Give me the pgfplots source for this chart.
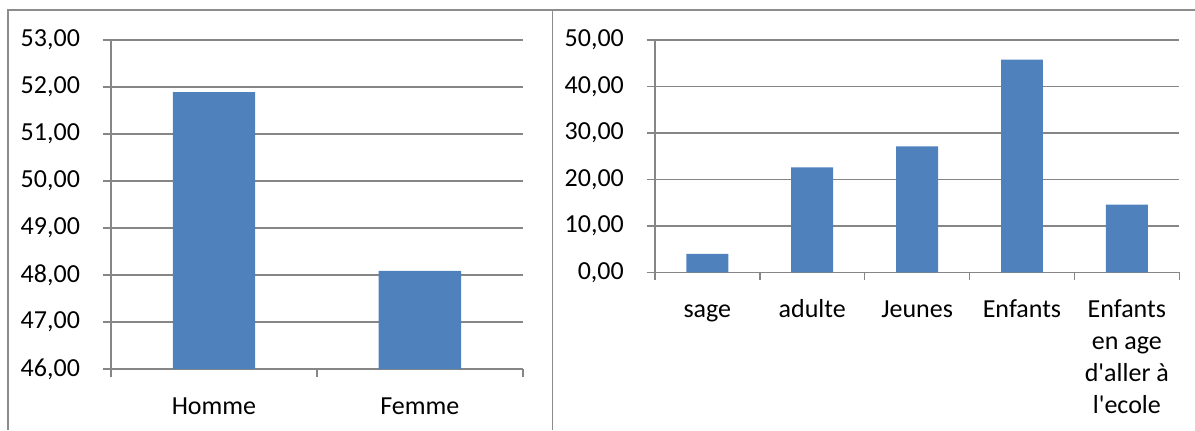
\documentclass[border=0pt]{standalone}
\usepackage{pgfplots}
\pgfplotsset{compat=1.18}
\usepackage{fontspec}
\setmainfont{Carlito}
\definecolor{barblue}{HTML}{4F81BD}
\definecolor{gridgray}{HTML}{868686}
\definecolor{bordergray}{HTML}{8C8C8C}
\pgfplotsset{
  excelbar/.style={
    scale only axis,
    axis lines*=left,
    tick align=outside,
    tick pos=left,
    major tick length=4pt,
    axis line style={color=gridgray, line width=0.75pt},
    tick style={color=gridgray, line width=0.75pt},
    ymajorgrids,
    grid style={color=gridgray, line width=0.75pt},
    x tick label as interval,
    xticklabel style={yshift=-3.8pt, align=center},
    yticklabel style={xshift=-8pt},
    every tick label/.append style={font=\fontsize{13}{16}\selectfont, text=black},
    /pgf/number format/.cd, fixed, fixed zerofill, precision=2, use comma, 1000 sep={}, assume math mode=true,
  },
}
\begin{document}
\begin{tikzpicture}
\path[use as bounding box] (0,0) rectangle (597.5pt,215pt);
\draw[bordergray, line width=0.8pt] (3.85pt,0) -- (3.85pt,210pt) -- (597.5pt,210pt);
\draw[bordergray, line width=0.8pt] (276.25pt,0) -- (276.25pt,210pt);
\begin{axis}[excelbar,
  at={(55.5pt,30.5pt)}, anchor=south west,
  width=205.9pt, height=164.5pt,
  xmin=0.5, xmax=2.5, ymin=46, ymax=53,
  xtick={0.5,1.5,2.5}, xticklabels={\strut Homme,\strut Femme},
  ytick={46,47,...,53},
]
\addplot[ybar, bar width=0.4, fill=barblue, draw=none] coordinates {(1,51.89) (2,48.09)};
\end{axis}
\begin{axis}[excelbar,
  at={(327.45pt,78.8pt)}, anchor=south west,
  width=262.2pt, height=116.2pt,
  xmin=0.5, xmax=5.5, ymin=0, ymax=50,
  xtick={0.5,1.5,...,5.5},
  xticklabels={\strut sage,\strut adulte,\strut Jeunes,\strut Enfants,{\strut Enfants\\en age\\d\textquotesingle aller à\\l\textquotesingle ecole}},
  ytick={0,10,...,50},
]
\addplot[ybar, bar width=0.4, fill=barblue, draw=none] coordinates {(1,4.0) (2,22.6) (3,27.1) (4,45.8) (5,14.6)};
\end{axis}
\end{tikzpicture}
\end{document}
